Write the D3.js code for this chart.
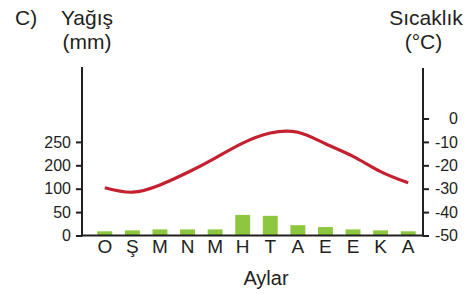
<!DOCTYPE html>
<html>
  <head>
    <meta charset="utf-8">
    <title>Yağış ve sıcaklık</title>
    <script src="https://d3js.org/d3.v7.min.js"></script>
    <style>
      body { margin: 0; background: #fff; }
      svg text { font-family: "Liberation Sans", Arial, sans-serif; fill: #231f20; }
    </style>
  </head>
  <body>
    <svg id="chart" width="466" height="294"></svg>
    <script>
      // data
      months = ["O", "Ş", "M", "N", "M", "H", "T", "A", "E", "E", "K", "A"];
      rain = [9, 11, 13, 13, 13, 44, 42, 22, 18, 13, 11, 9];
      temp = [-29.6, -31.5, -28.4, -23.1, -16.9, -10.5, -6.2, -5.9, -10.8, -16.2, -22.7, -27.5];
      rainTicks = ["0", "50", "100", "200", "250"];
      tempTicks = [-50, -40, -30, -20, -10, 0];

      svg = d3.select("#chart");
      ink = "#231f20";

      // scales
      x = d3.scaleBand()
        .domain(d3.range(months.length))
        .range([91, 422])
        .paddingInner(0.46)
        .paddingOuter(0.23);
      yTemp = d3.scaleLinear().domain([-50, 0]).range([235.5, 118.5]);
      yRain = d3.scaleLinear().domain([0, 50]).range([235.5, 212.1]);
      yRainTick = d3.scalePoint().domain(rainTicks).range([235.5, 141.9]);

      // bars
      svg.append("g")
        .selectAll("rect")
          .data(rain)
        .enter().append("rect")
          .attr("x", function(d, i) { return x(i); })
          .attr("width", x.bandwidth())
          .attr("y", function(d) { return yRain(d); })
          .attr("height", function(d) { return yRain(0) - yRain(d); })
          .attr("fill", "#8dc63f");

      // temperature line
      line = d3.line()
        .x(function(d, i) { return x(i) + x.bandwidth() / 2; })
        .y(function(d) { return yTemp(d); })
        .curve(d3.curveNatural);
      svg.append("path")
        .datum(temp)
        .attr("d", line)
        .attr("fill", "none")
        .attr("stroke", "#c4202f")
        .attr("stroke-width", 3.2);

      // axes
      left = svg.append("g")
        .attr("transform", "translate(82,0)")
        .call(d3.axisLeft(yRainTick).tickSize(6).tickPadding(5));
      right = svg.append("g")
        .attr("transform", "translate(423,0)")
        .call(d3.axisRight(yTemp).tickValues(tempTicks).tickSize(6)
          .tickFormat(function(d) { return String(d); }));
      right.selectAll("text")
        .attr("text-anchor", "end")
        .attr("x", 35);
      [left, right].forEach(function(g) {
        g.select(".domain").remove();
        g.selectAll("line").attr("stroke", ink).attr("stroke-width", 2);
        g.selectAll("text").attr("font-size", 16).attr("fill", ink);
      });
      svg.append("line")
        .attr("x1", 82).attr("x2", 82).attr("y1", 67).attr("y2", 236.5)
        .attr("stroke", ink).attr("stroke-width", 2);
      svg.append("line")
        .attr("x1", 423).attr("x2", 423).attr("y1", 68).attr("y2", 236.5)
        .attr("stroke", ink).attr("stroke-width", 2);
      svg.append("line")
        .attr("x1", 81).attr("x2", 424).attr("y1", 235.5).attr("y2", 235.5)
        .attr("stroke", ink).attr("stroke-width", 2);

      // month labels
      svg.append("g")
        .selectAll("text")
          .data(months)
        .enter().append("text")
          .attr("x", function(d, i) { return x(i) + x.bandwidth() / 2; })
          .attr("y", 252.5)
          .attr("text-anchor", "middle")
          .attr("font-size", 19)
          .text(function(d) { return d; });

      // titles
      titles = [
        ["C)", 15, 25, "start", 21],
        ["Yağış", 87, 25, "middle", 21],
        ["(mm)", 87, 49, "middle", 21],
        ["Sıcaklık", 426, 25, "middle", 21],
        ["(°C)", 423.5, 49, "middle", 21],
        ["Aylar", 266, 285, "middle", 20]
      ];
      svg.selectAll(".title")
        .data(titles)
        .enter().append("text")
          .classed("title", true)
          .attr("x", function(d) { return d[1]; })
          .attr("y", function(d) { return d[2]; })
          .attr("text-anchor", function(d) { return d[3]; })
          .attr("font-size", function(d) { return d[4]; })
          .text(function(d) { return d[0]; });
    </script>
  </body>
</html>
